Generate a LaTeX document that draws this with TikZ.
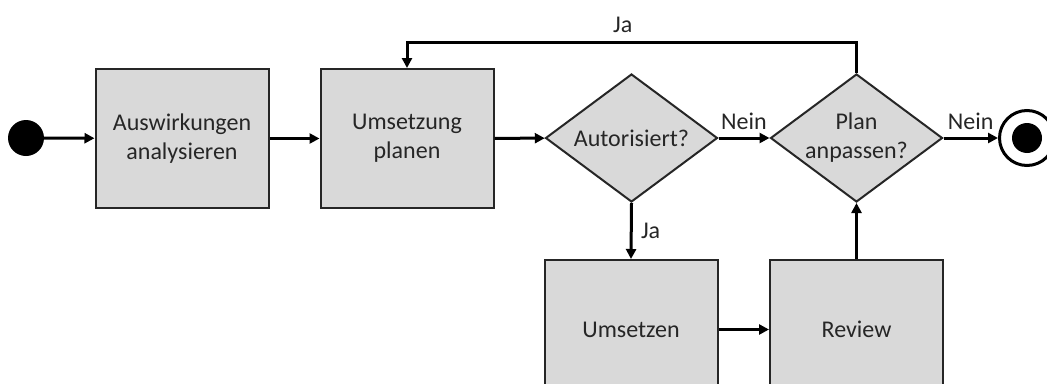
\documentclass[tikz,border=0pt]{standalone}
\usepackage{fontspec}
\setmainfont{Carlito}
\usetikzlibrary{shapes.geometric,arrows.meta}
\definecolor{boxfill}{HTML}{D9D9D9}
\definecolor{txt}{HTML}{262626}
\begin{document}
\begin{tikzpicture}[x=1pt,y=-1pt,
 every node/.style={font=\fontsize{24}{29}\selectfont, text=txt},
 stepbox/.style={draw=black!85, line width=2pt, fill=boxfill, minimum width=173pt, minimum height=139pt, align=center, inner sep=0pt},
 decide/.style={diamond, shape aspect=1.35, draw=black!85, line width=2pt, fill=boxfill, minimum width=172pt, minimum height=128pt, align=center, inner sep=0pt},
 conn/.style={line width=3pt, -{Triangle[length=10pt,width=10pt]}},
 dot/.style={circle, fill=black, inner sep=0pt}]
\useasboundingbox (0,0) rectangle (1047,383);
\clip (0,0) rectangle (1047,383);
\fill[white] (0,0) rectangle (1047,383);
\node[dot, minimum size=36pt] (start) at (26,138) {};
\node[stepbox] (a1) at (182,138.5) {Auswirkungen\\analysieren};
\node[stepbox] (a2) at (407,138.5) {Umsetzung\\planen};
\node[decide] (d1) at (631.5,138) {Autorisiert?};
\node[decide] (d2) at (856.5,138) {Plan\\anpassen?};
\node[stepbox] (u) at (631,329.5) {Umsetzen};
\node[stepbox] (r) at (856.5,329.5) {Review};
\node[circle, draw=black, line width=3pt, minimum size=55pt, inner sep=0pt] (fin) at (1027,138) {};
\node[dot, minimum size=30pt] (findot) at (fin) {};
\draw[conn] (start) -- (a1);
\draw[conn] (a1) -- (a2);
\draw[conn] (a2) -- (d1);
\draw[conn] (d1.east) -- node[above=4pt]{Nein} (d2.west);
\draw[conn] (d2.east) -- node[above=4pt]{Nein} (fin.west);
\draw[conn] (d1.south) -- node[right=5pt]{Ja} (u.north);
\draw[conn] (u) -- (r);
\draw[conn] (r.north) -- (d2.south);
\draw[conn] (d2.north) -- (d2.north |- 0,42) -| node[pos=0.26, above=4pt]{Ja} (a2.north);
\end{tikzpicture}
\end{document}
